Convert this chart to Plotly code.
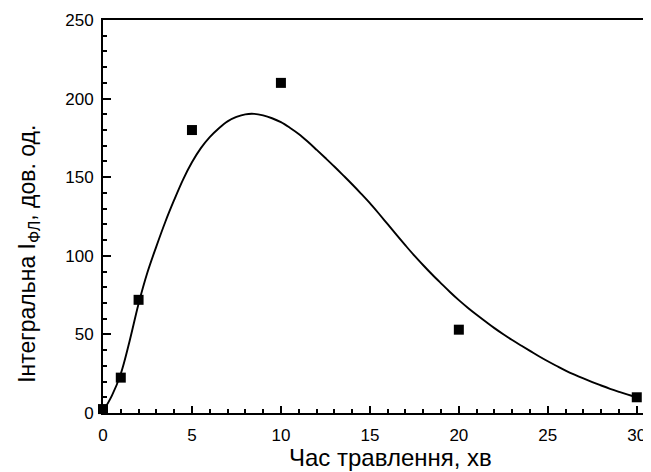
import plotly.graph_objects as go

# Measured points
etch_time = [0, 1, 2, 5, 10, 20, 30]
intensity = [2.5, 22.5, 72, 180, 210, 53, 10]

# Fitted curve (one reading per half minute)
curve_x = [i * 0.5 for i in range(61)]
curve_y = [1, 11, 25, 46, 69.5, 89.5, 106, 121.5, 135.5, 148.5, 159.5, 168.5, 175.5,
           181, 185.5, 188.3, 190, 190.3, 189.3, 187.5, 185, 181.5, 177.5, 172.7,
           167.5, 162.2, 156.8, 151.2, 145.5, 139.6, 133.5, 126.9, 120.1, 113.3,
           106.6, 100.1, 94, 88.1, 82.5, 77, 71.8, 67, 62.5, 58.2, 54, 50.1, 46.4,
           42.9, 39.5, 36.1, 32.9, 29.9, 27, 24.4, 22, 19.7, 17.5, 15.4, 13.5, 11.7,
           10]

x_ticks = [0, 5, 10, 15, 20, 25, 30]
y_ticks = [0, 50, 100, 150, 200, 250]

FONT = "Arial, Liberation Sans, sans-serif"

fig = go.Figure()
fig.add_trace(go.Scatter(x=curve_x, y=curve_y, mode="lines",
                         line=dict(color="black", width=1.9, shape="spline", smoothing=1),
                         showlegend=False, hoverinfo="skip"))
fig.add_trace(go.Scatter(x=etch_time, y=intensity, mode="markers",
                         marker=dict(symbol="square", size=10, color="black"),
                         cliponaxis=False, showlegend=False))

fig.update_layout(
    width=643, height=464,
    margin=dict(l=95, r=0, t=12, b=59),
    paper_bgcolor="white", plot_bgcolor="white",
    font=dict(family=FONT, size=17, color="black"),
    xaxis=dict(range=[0, 30.8], tickvals=x_ticks, showgrid=False, zeroline=False,
               showline=True, linecolor="black", linewidth=2, mirror=True,
               ticks="inside", ticklen=7, tickwidth=1.5, tickcolor="black",
               ticklabelstandoff=6,
               minor=dict(ticks="inside", dtick=1, ticklen=4, tickwidth=1.5,
                          tickcolor="black", showgrid=False)),
    yaxis=dict(range=[0, 250], tickvals=y_ticks, showgrid=False, zeroline=False,
               showline=True, linecolor="black", linewidth=2,
               ticks="inside", ticklen=8, tickwidth=1.5, tickcolor="black",
               ticklabelstandoff=4,
               minor=dict(ticks="inside", dtick=10, ticklen=4, tickwidth=1.5,
                          tickcolor="black", showgrid=False)),
    annotations=[
        dict(text="Час травлення, хв", xref="paper", yref="paper",
             x=0.524, y=-0.112, xanchor="center", yanchor="middle",
             showarrow=False, font=dict(family=FONT, size=24, color="black")),
        dict(text="Інтегральна I<sub>ФЛ</sub>, дов. од.", xref="paper", yref="paper",
             x=-0.135, y=0.405, xanchor="center", yanchor="middle", textangle=-90,
             showarrow=False, font=dict(family=FONT, size=23, color="black")),
    ],
)

fig.write_html("out.html")
